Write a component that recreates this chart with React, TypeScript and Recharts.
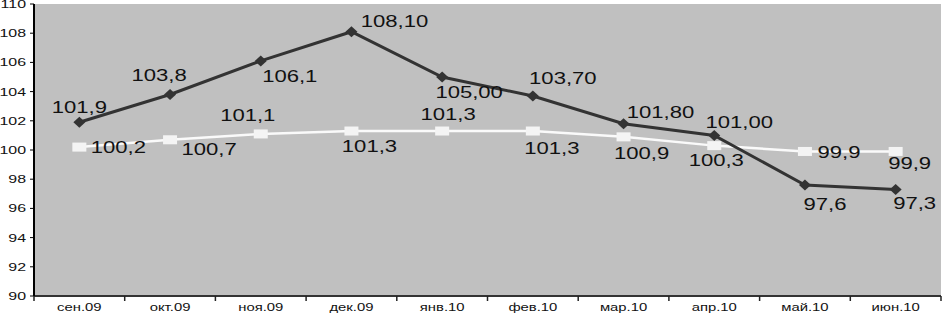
import React from "react"
import { CartesianGrid, LabelList, Line, LineChart, XAxis, YAxis } from "recharts"

const months = ["сен.09", "окт.09", "ноя.09", "дек.09", "янв.10", "фев.10", "мар.10", "апр.10", "май.10", "июн.10"]
const darkValues = [101.9, 103.8, 106.1, 108.1, 105.0, 103.7, 101.8, 101.0, 97.6, 97.3]
const darkDecimals = [1, 1, 1, 2, 2, 2, 2, 2, 1, 1]
const lightValues = [100.2, 100.7, 101.1, 101.3, 101.3, 101.3, 100.9, 100.3, 99.9, 99.9]
const lightDecimals = [1, 1, 1, 1, 1, 1, 1, 1, 1, 1]
const yTicks = [90, 92, 94, 96, 98, 100, 102, 104, 106, 108, 110]

// label placement relative to the marker (centre of text)
const darkLabelOffsets = [[0, -15], [-11, -19], [29, 15], [43, -11], [27, 15], [30, -18], [37, -11], [25, -13], [20, 19], [19, 14]]
const lightLabelOffsets = [[39, 0], [39, 9], [-13, -19], [18, 15], [6, -17], [19, 17], [18, 16], [2, 15], [34, 1], [14, 12]]

const data = months.map((month, i) => ({ month, dark: darkValues[i], light: lightValues[i] }))

const FONT = "'Liberation Sans', Arial, sans-serif"

const fmt = (v: number, d: number) => v.toFixed(d).replace(".", ",")

function makeLabel(offsets: number[][], decimals: number[]) {
  return (props: any) => {
    const { x, y, value, index } = props
    const [dx, dy] = offsets[index] || [0, -12]
    return (
      <text
        transform={`translate(${x + dx},${y + dy}) scale(1.38,1)`}
        textAnchor="middle"
        dy="0.36em"
        fontFamily={FONT}
        fontSize={16}
        fill="#111"
      >
        {fmt(value, decimals[index])}
      </text>
    )
  }
}

const Diamond = (props: any) => {
  const { cx, cy } = props
  if (cx == null || cy == null) return null
  return <polygon points={`${cx - 6},${cy} ${cx},${cy - 5.5} ${cx + 6},${cy} ${cx},${cy + 5.5}`} fill="#333" />
}

const Square = (props: any) => {
  const { cx, cy } = props
  if (cx == null || cy == null) return null
  return <rect x={cx - 7} y={cy - 4.5} width={14} height={9} fill="#f4f4f4" />
}

const XTick = (props: any) => {
  const { x, y, payload, index } = props
  const half = payload && payload.offset ? payload.offset : 45.35
  return (
    <g>
      {index === 0 && <line x1={x - half} x2={x - half} y1={y} y2={y + 5} stroke="#222" strokeWidth={1.5} />}
      <line x1={x + half} x2={x + half} y1={y} y2={y + 5} stroke="#222" strokeWidth={1.5} />
      <text
        transform={`translate(${x},${y + 11}) scale(1.35,1)`}
        textAnchor="middle"
        dy="0.36em"
        fontFamily={FONT}
        fontSize={11}
        fill="#111"
      >
        {payload.value}
      </text>
    </g>
  )
}

const YTick = (props: any) => {
  const { x, y, payload } = props
  return (
    <text
      transform={`translate(${x},${y}) scale(1.45,1)`}
      textAnchor="end"
      dy="0.36em"
      fontFamily={FONT}
      fontSize={11}
      fill="#111"
    >
      {payload.value}
    </text>
  )
}

export default function App() {
  return (
    <div style={{ position: "absolute", left: 0, top: 0, width: 943, height: 316, background: "#fff" }}>
      <LineChart width={943} height={316} data={data} margin={{ top: 4, right: 2, left: 0, bottom: 0 }}>
        <CartesianGrid horizontal={false} vertical={false} fill="#c0c0c0" />
        <XAxis
          dataKey="month"
          scale="band"
          height={20}
          axisLine={{ stroke: "#333", strokeWidth: 2 }}
          tickLine={false}
          tickSize={0}
          tickMargin={0}
          tick={<XTick />}
          interval={0}
        />
        <YAxis
          domain={[90, 110]}
          ticks={yTicks}
          width={34}
          axisLine={{ stroke: "#000", strokeWidth: 2 }}
          tickLine={{ stroke: "#000" }}
          tickSize={4}
          tickMargin={4}
          tick={<YTick />}
          interval={0}
        />
        <YAxis
          yAxisId="right"
          orientation="right"
          domain={[90, 110]}
          width={0}
          tick={false}
          tickLine={false}
          axisLine={{ stroke: "#555", strokeWidth: 2 }}
        />
        <Line
          dataKey="light"
          stroke="#fafafa"
          strokeWidth={2.5}
          dot={<Square />}
          activeDot={false}
          isAnimationActive={false}
        >
          <LabelList dataKey="light" content={makeLabel(lightLabelOffsets, lightDecimals)} />
        </Line>
        <Line
          dataKey="dark"
          stroke="#333"
          strokeWidth={3}
          dot={<Diamond />}
          activeDot={false}
          isAnimationActive={false}
        >
          <LabelList dataKey="dark" content={makeLabel(darkLabelOffsets, darkDecimals)} />
        </Line>
      </LineChart>
    </div>
  )
}
